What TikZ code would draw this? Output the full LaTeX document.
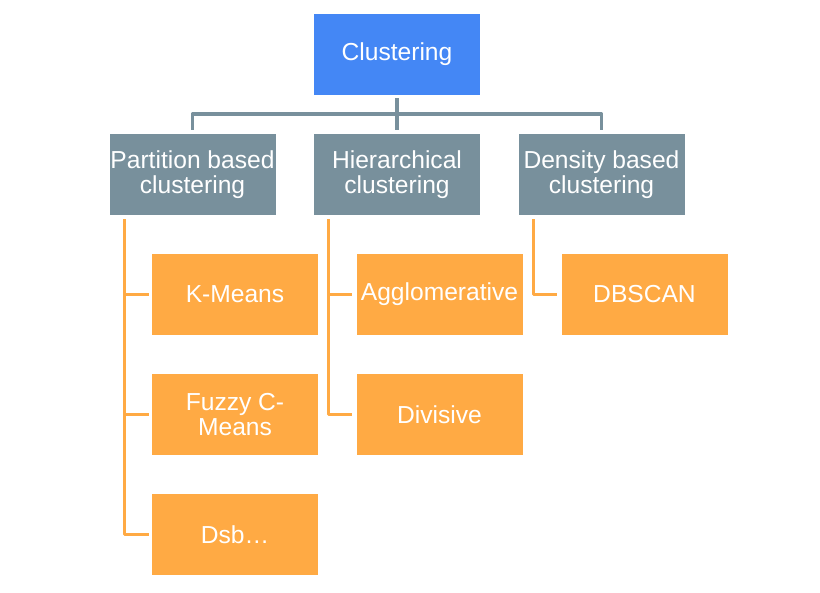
\documentclass[tikz,border=0pt]{standalone}
\usepackage{fontspec}
\setmainfont{Liberation Sans}
\usetikzlibrary{calc}
\definecolor{cblue}{HTML}{4487F5}
\definecolor{cgray}{HTML}{78909C}
\definecolor{corange}{HTML}{FFAA44}
\begin{document}
\begin{tikzpicture}[x=1pt,y=-1pt,
  box/.style={minimum width=166pt,minimum height=81pt,inner sep=0pt,align=center,text=white,
    font=\fontsize{24.6}{25}\selectfont},
  rootbox/.style={box,fill=cblue},
  midbox/.style={box,fill=cgray},
  leafbox/.style={box,fill=corange},
  grayline/.style={draw=cgray,line width=3.2pt,line join=round},
  orangeline/.style={draw=corange,line width=3pt,line join=round}]
\useasboundingbox (0,0) rectangle (820,593);
\node[rootbox] (root) at (397,54.5) {Clustering};
\node[midbox] (part) at (192.5,174.5) {Partition based\\clustering};
\node[midbox] (hier) at (397,174.5) {Hierarchical\\clustering};
\node[midbox] (dens) at (601.5,174.5) {Density based\\clustering};
\node[leafbox] (km) at (235,294.5) {K-Means};
\node[leafbox] (fcm) at (235,414.5) {Fuzzy C-\\Means};
\node[leafbox] (dsb) at (235,534.5) {Dsb…};
\node[leafbox] (agg) at (439.5,294.5) {Agglomerative};
\node[leafbox] (div) at (439.5,414.5) {Divisive};
\node[leafbox] (db) at (644.5,294.5) {DBSCAN};
% gray tree
\coordinate (bus) at (397,114);
\coordinate (pa) at ($(part.north)+(0,-4)$);
\coordinate (pd) at ($(dens.north)+(0,-4)$);
\draw[grayline] ($(root.south)+(0,3)$) -- ($(hier.north)+(0,-4)$);
\draw[grayline] (pa) -- (pa |- bus) -- (pd |- bus) -- (pd);
% orange trees
\coordinate (t1) at ($(part.south west)+(15,4)$);
\draw[orangeline] (t1) |- ($(dsb.west)+(-3,0)$);
\draw[orangeline] (t1 |- km.west) -- ($(km.west)+(-3,0)$);
\draw[orangeline] (t1 |- fcm.west) -- ($(fcm.west)+(-3,0)$);
\coordinate (t2) at ($(hier.south west)+(15,4)$);
\draw[orangeline] (t2) |- ($(div.west)+(-4,0)$);
\draw[orangeline] (t2 |- agg.west) -- ($(agg.west)+(-4,0)$);
\coordinate (t3) at ($(dens.south west)+(15,4)$);
\draw[orangeline] (t3) |- ($(db.west)+(-4,0)$);
\end{tikzpicture}
\end{document}
